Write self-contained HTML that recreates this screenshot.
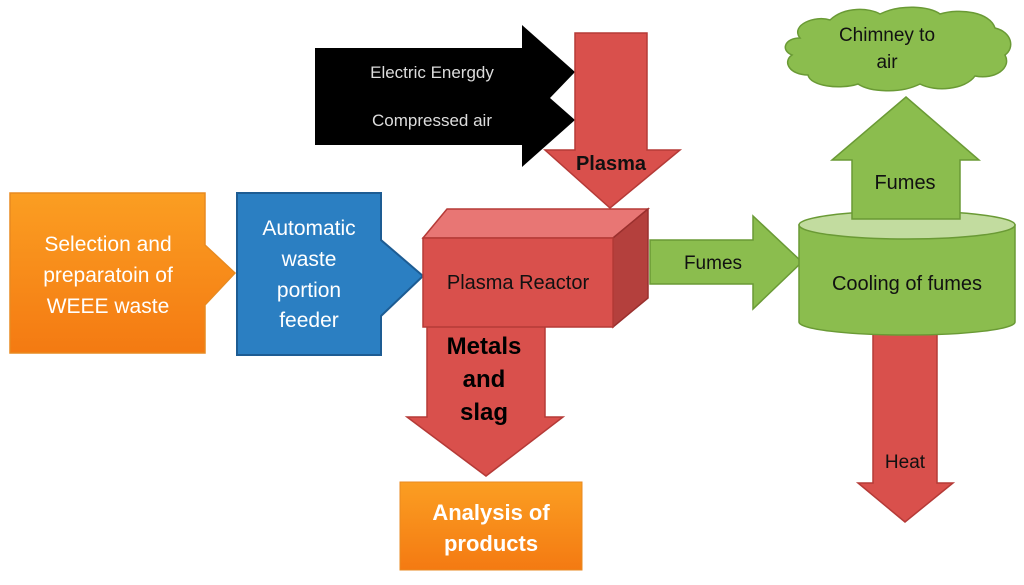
<!DOCTYPE html>
<html><head><meta charset="utf-8"><style>
body{margin:0;background:#fff}
svg{display:block}
text{font-family:"Liberation Sans",sans-serif}
</style></head><body>
<svg width="1024" height="585" viewBox="0 0 1024 585">
<defs>
<linearGradient id="og" x1="0" y1="0" x2="0" y2="1"><stop offset="0" stop-color="#fb9e22"/><stop offset="1" stop-color="#f47a12"/></linearGradient>
</defs>
<path d="M10 193 H205 V245 L235 273 L205 305 V353 H10 Z" fill="url(#og)" stroke="#e88a20" stroke-width="1.5"/>
<g fill="#fff" font-size="21" text-anchor="middle">
<text x="108" y="251">Selection  and</text>
<text x="108" y="282">preparatoin of</text>
<text x="108" y="313">WEEE waste</text>
</g>
<path d="M237 193 H381 V240 L423 276 L381 316 V355 H237 Z" fill="#2b7fc2" stroke="#1d5c93" stroke-width="2"/>
<g fill="#fff" font-size="21" text-anchor="middle">
<text x="309" y="235">Automatic</text>
<text x="309" y="266">waste</text>
<text x="309" y="297">portion</text>
<text x="309" y="327">feeder</text>
</g>
<path d="M315 48 H522 V25 L575 72 L550 98 L575 120 L522 167 V145 H315 Z" fill="#000"/>
<g fill="#ddd" font-size="17" text-anchor="middle">
<text x="432" y="78">Electric Energdy</text>
<text x="432" y="126">Compressed air</text>
</g>
<path d="M575 33 H647 V150 H680 L610 208 L545 150 H575 Z" fill="#d9504c" stroke="#b53a37" stroke-width="1.5"/>
<text x="611" y="170" font-size="20" font-weight="bold" text-anchor="middle" fill="#111">Plasma</text>
<path d="M427 320 H545 V417 H563 L486 476 L407 417 H427 Z" fill="#d9504c" stroke="#b53a37" stroke-width="1.5"/>
<g fill="#000" font-size="24" font-weight="bold" text-anchor="middle">
<text x="484" y="354">Metals</text>
<text x="484" y="387">and</text>
<text x="484" y="420">slag</text>
</g>
<path d="M423 238 L447 209 H648 L613 238 Z" fill="#e87674" stroke="#b53a37" stroke-width="1.5"/>
<path d="M613 238 L648 209 V298 L613 327 Z" fill="#b4403d" stroke="#9a302e" stroke-width="1.5"/>
<rect x="423" y="238" width="190" height="89" fill="#d9504c" stroke="#b53a37" stroke-width="1.5"/>
<text x="518" y="289" font-size="20" text-anchor="middle" fill="#111">Plasma Reactor</text>
<rect x="400" y="482" width="182" height="88" fill="url(#og)" stroke="#e88a20"/>
<g fill="#fff" font-size="22" font-weight="bold" text-anchor="middle">
<text x="491" y="520">Analysis of</text>
<text x="491" y="551">products</text>
</g>
<path d="M650 240 H753 V216 L802 262 L753 309 V284 H650 Z" fill="#8bbd4e" stroke="#6a9a35" stroke-width="1.5"/>
<text x="713" y="269" font-size="19" text-anchor="middle" fill="#111">Fumes</text>
<path d="M873 320 H937 V483 H953 L905 522 L858 483 H873 Z" fill="#d9504c" stroke="#b53a37" stroke-width="1.5"/>
<text x="905" y="468" font-size="19" text-anchor="middle" fill="#111">Heat</text>
<path d="M799 225 V322 A108 13 0 0 0 1015 322 V225 Z" fill="#8bbd4e" stroke="#6a9a35" stroke-width="1.5"/>
<ellipse cx="907" cy="225" rx="108" ry="14" fill="#c2dc9f" stroke="#6a9a35" stroke-width="1.5"/>
<text x="907" y="290" font-size="20" text-anchor="middle" fill="#111">Cooling of fumes</text>
<path d="M852 219 V160 H832 L906 97 L979 160 H960 V219 Z" fill="#8bbd4e" stroke="#6a9a35" stroke-width="1.5"/>
<text x="905" y="189" font-size="20" text-anchor="middle" fill="#111">Fumes</text>
<path d="M800 38 C790 25 815 15 830 20 C845 6 870 8 880 14 C900 4 930 6 940 14 C960 8 990 12 995 28 C1012 32 1015 48 1005 55 C1012 68 995 80 975 76 C965 90 935 92 920 84 C900 94 870 92 858 84 C840 90 810 86 808 75 C790 75 782 62 792 55 C780 50 785 38 800 38 Z" fill="#8bbd4e" stroke="#6a9a35" stroke-width="1.5"/>
<g fill="#111" font-size="19" text-anchor="middle">
<text x="887" y="41">Chimney to</text>
<text x="887" y="68">air</text>
</g>
</svg>
</body></html>
